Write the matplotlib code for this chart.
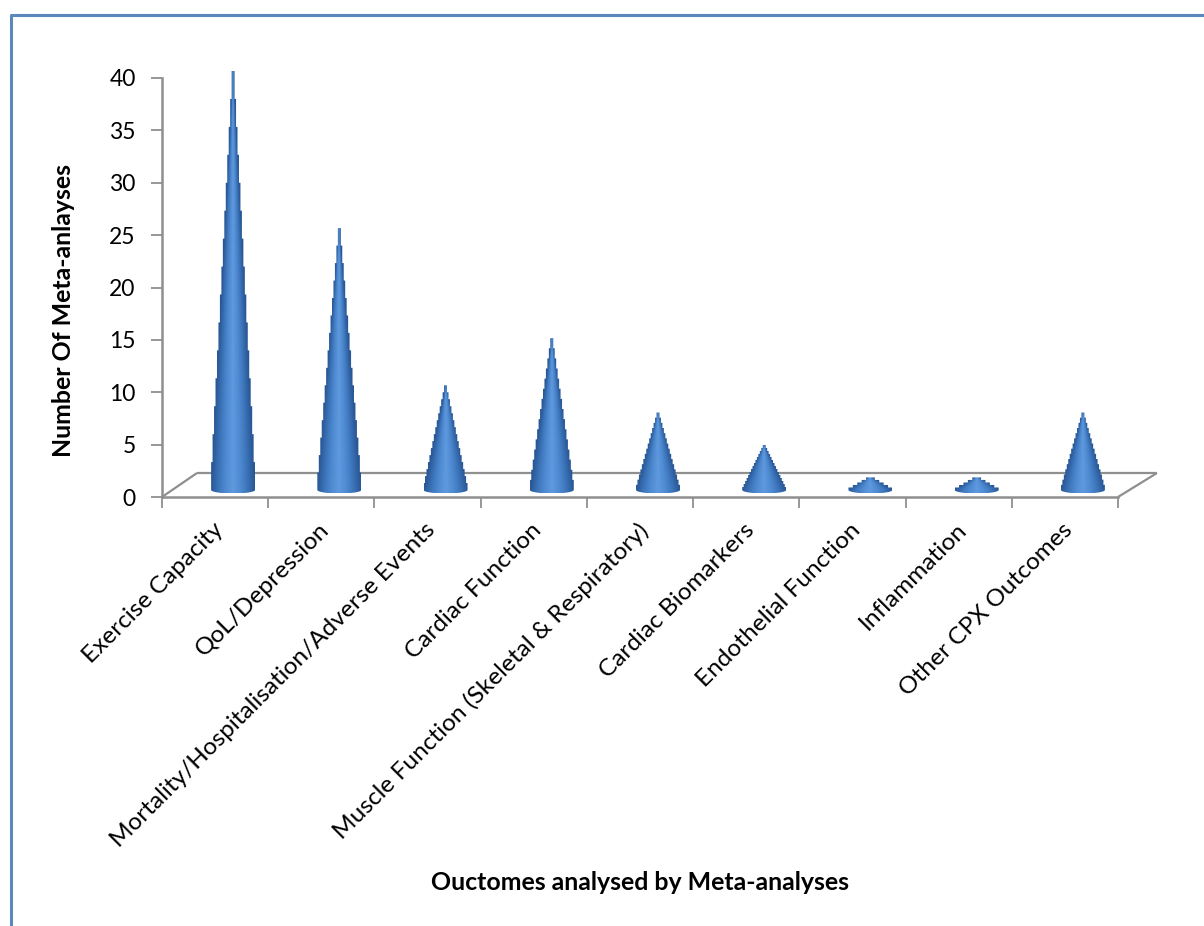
import numpy as np
import matplotlib
matplotlib.use("Agg")
import matplotlib.pyplot as plt
from matplotlib.colors import LinearSegmentedColormap
from matplotlib.patches import PathPatch
from matplotlib.path import Path

categories = [
    "Exercise Capacity",
    "QoL/Depression",
    "Mortality/Hospitalisation/Adverse Events",
    "Cardiac Function",
    "Muscle Function (Skeletal & Respiratory)",
    "Cardiac Biomarkers",
    "Endothelial Function",
    "Inflammation",
    "Other CPX Outcomes",
]
meta_analyses = [40, 25, 10, 14.5, 7.4, 4.3, 1.2, 1.2, 7.4]
y_ticks = [0, 5, 10, 15, 20, 25, 30, 35, 40]

W, H = 1204, 926
AX_L, AX_R, AX_T, AX_B = 162, 1118, 78, 497
GREY = "#8f8f8f"
FRAME = "#5b87bd"
FONT = ["Lato", "DejaVu Sans"]

plt.rcParams["font.family"] = FONT

fig = plt.figure(figsize=(W / 100, H / 100), dpi=100, facecolor="white")
ax = fig.add_axes([AX_L / W, 1 - AX_B / H, (AX_R - AX_L) / W, (AX_B - AX_T) / H])
ax.set_xlim(0, len(categories))
ax.set_ylim(0, 40)
ax.patch.set_alpha(0)

px_x = len(categories) / (AX_R - AX_L)   # data units per pixel, horizontal
px_y = 40 / (AX_B - AX_T)                # data units per pixel, vertical

# Outer frame of the chart area, open towards the right and bottom
frame_x = [10.5 / W, 10.5 / W, 1.0]
frame_y = [1.0 - 926 / H, 1 - 14.5 / H, 1 - 14.5 / H]
fig.add_artist(plt.Line2D(frame_x, frame_y, color=FRAME, lw=2.2))

# Floor of the pseudo-3D plot
dx_l, dx_r, dy = 35 * px_x, 39 * px_x, 24 * px_y
n = len(categories)
floor_lines = [([0, dx_l], [0, dy]), ([dx_l, n + dx_r], [dy, dy]), ([n, n + dx_r], [0, dy])]
for xs, ys in floor_lines:
    ax.plot(xs, ys, color=GREY, lw=1.6, clip_on=False, zorder=1, solid_capstyle="butt")

# Blue gradient used across each cone, light along the axis and dark at the rim
cone_cmap = LinearSegmentedColormap.from_list(
    "cone", ["#5f99de", "#4f8bd2", "#3c74b9", "#2a5896"]
)


def stepped(points):
    """Insert corners so consecutive points join with a horizontal then vertical run."""
    out, prev_x = [], None
    for x, y in points:
        if prev_x is not None:
            out.append((prev_x, y))
        out.append((x, y))
        prev_x = x
    return out


def draw_cone(center, value):
    """Cone with a serrated outline, shaded across its local width."""
    base = 7 * px_y
    half_w = 22 * px_x
    sag = 3.5 * px_y
    step = (1.5 if value >= 3 else 4.5) * px_x
    tip = base + value

    rise = value * step / half_w          # height of one serration
    count = max(int(round(value / rise)), 2)
    ys = np.linspace(base, tip, count + 1)
    widths = half_w * (tip - ys) / value
    left = stepped([(center - w, y) for w, y in zip(widths, ys)])
    right = stepped([(center + w, y) for w, y in zip(widths, ys)])

    arc_t = np.linspace(np.pi, 2 * np.pi, 20)
    arc = [(center + half_w * np.cos(t), base + sag * np.sin(t)) for t in arc_t]
    path = Path(arc + right + [(center, tip)] + left[::-1] + [arc[0]])

    # Shade each raster row by its distance from the axis relative to the width there
    rows, cols = 300, 90
    gx = np.linspace(-half_w, half_w, cols)
    gy = np.linspace(tip, base - sag, rows)
    local = np.maximum(half_w * (tip - np.maximum(gy, base)) / value, 1.2 * px_x)
    u = np.abs(gx[None, :]) / local[:, None]
    img = ax.imshow(
        np.clip(u, 0, 1), cmap=cone_cmap, vmin=0, vmax=1, aspect="auto",
        extent=(center - half_w, center + half_w, base - sag, tip),
        interpolation="bilinear", zorder=3, origin="upper",
    )
    patch = PathPatch(path, transform=ax.transData, facecolor="none", edgecolor="none")
    ax.add_patch(patch)
    img.set_clip_path(patch)
    img.set_clip_box(fig.bbox)   # the tallest cone rises slightly above the top tick


CONE_SHIFT = 18 * px_x
for i, v in enumerate(meta_analyses):
    draw_cone(i + 0.5 + CONE_SHIFT, v)

ax.set_xlim(0, n)
ax.set_ylim(0, 40)

# Axes, ticks and labels
for side in ("top", "right"):
    ax.spines[side].set_visible(False)
for side in ("left", "bottom"):
    ax.spines[side].set_color(GREY)
    ax.spines[side].set_linewidth(1.8)

ax.set_yticks(y_ticks)
ax.tick_params(axis="y", length=8, width=1.3, color=GREY, labelsize=16.5, labelcolor="black", pad=11)
ax.set_xticks(range(n + 1))
ax.set_xticklabels([])
ax.tick_params(axis="x", length=8, width=1.3, color=GREY)

for i, label in enumerate(categories):
    ax.annotate(
        label, xy=(i + 0.5, 0), xycoords=("data", "axes fraction"),
        xytext=(-2, -16), textcoords="offset points",
        rotation=45, rotation_mode="anchor", ha="right", va="top",
        fontsize=17.6, color="black",
    )

fig.text(640 / W, 1 - 883 / H, "Ouctomes analysed by Meta-analyses",
         ha="center", va="center", fontsize=17.9, fontweight="bold")
fig.text(64 / W, 1 - 311 / H, "Number Of Meta-anlayses", rotation=90,
         ha="center", va="center", fontsize=17.9, fontweight="bold")

fig.savefig("out.png", dpi=100, facecolor="white")
